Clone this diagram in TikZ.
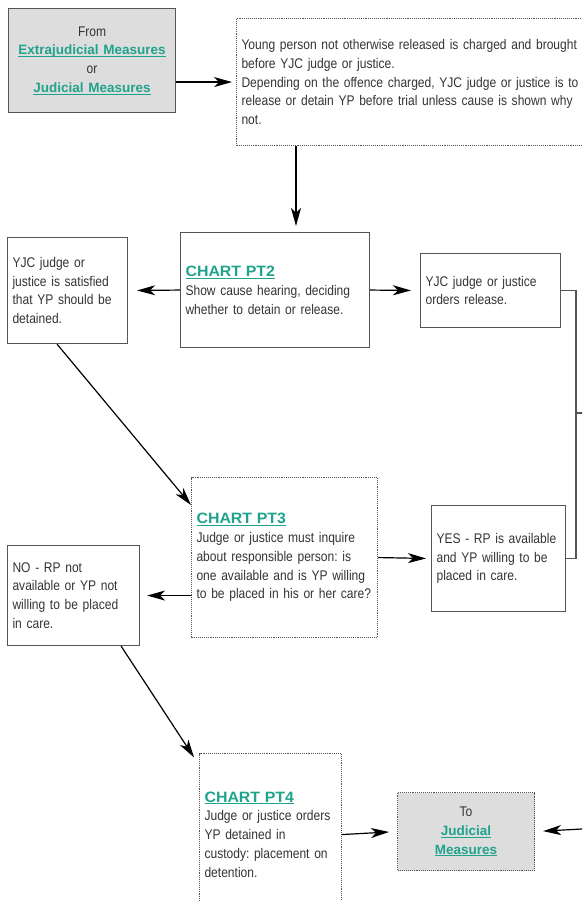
\documentclass[tikz,border=0pt]{standalone}
\usepackage{fontspec}
\setmainfont{Liberation Sans}[FakeStretch=0.86]
\newfontfamily\chartfont{Liberation Sans}[FakeStretch=1.06]
\newfontfamily\linkfont{Liberation Sans}
\usepackage{xcolor}
\usepackage{tikz}
\usetikzlibrary{arrows.meta}
\frenchspacing

\definecolor{linkteal}{RGB}{31,163,140}
\definecolor{boxgrey}{RGB}{221,221,221}
\definecolor{edgegrey}{RGB}{85,85,85}

\newcommand{\linktext}[1]{{\linkfont\fontsize{13.5}{19}\selectfont\color{linkteal}\underline{\raisebox{0pt}[\height][0pt]{\textbf{#1}}}}}
\newcommand{\charthead}[1]{{\chartfont\fontsize{15}{19}\selectfont\color{linkteal}\underline{\raisebox{0pt}[\height][0pt]{\textbf{#1}}}}}

\tikzset{
  box/.style={draw=edgegrey, line width=1.1pt, anchor=north west, inner xsep=5pt, inner ysep=0pt,
    align=left, text=black!80, font=\fontsize{14}{18.8}\selectfont},
  dotbox/.style={box, densely dotted},
  greybox/.style={fill=boxgrey},
  arrow/.style={-{Stealth[length=18pt,width=10pt,inset=5pt]}, line width=1.2pt, black},
  line/.style={line width=1.1pt, edgegrey}
}

\begin{document}
\begin{tikzpicture}[x=1pt,y=-1pt]
\useasboundingbox (0,0) rectangle (582,901);
\clip (0,0) rectangle (582,901);

% boxes
\node[box, greybox, align=center, text width=157pt, minimum height=104pt] (from) at (8,8)
  {From\\ \linktext{Extrajudicial Measures}\\ or\\ \linktext{Judicial Measures}};
\node[dotbox, text width=380pt, minimum height=127pt] (charged) at (236,18)
  {Young person not otherwise released is charged and brought\\ before YJC judge or justice.\\
   Depending on the offence charged, YJC judge or justice is to\\ release or detain YP before trial unless cause is shown why\\ not.};
\node[box, text width=179pt, minimum height=115pt] (pt2) at (180,232)
  {\charthead{CHART PT2}\\ Show cause hearing, deciding\\ whether to detain or release.};
\node[box, text width=110pt, minimum height=106pt] (satisfied) at (7,237)
  {YJC judge or\\ justice is satisfied\\ that YP should be\\ detained.};
\node[box, text width=130pt, minimum height=74pt] (release) at (420,253)
  {YJC judge or justice\\ orders release.};
\node[dotbox, text width=176pt, minimum height=160pt] (pt3) at (191,477)
  {\charthead{CHART PT3}\\ Judge or justice must inquire\\ about responsible person: is\\ one available and is YP willing\\ to be placed in his or her care?};
\node[box, text width=124pt, minimum height=106pt] (yes) at (431,505)
  {YES - RP is available\\ and YP willing to be\\ placed in care.};
\node[box, text width=122pt, minimum height=100pt] (no) at (7,545)
  {NO - RP not\\ available or YP not\\ willing to be placed\\ in care.};
\node[dotbox, text width=132pt, minimum height=162pt] (pt4) at (199,753)
  {\charthead{CHART PT4}\\ Judge or justice orders\\ YP detained in\\ custody: placement on\\ detention.};
\node[dotbox, greybox, align=center, text width=127pt, minimum height=78pt] (tojm) at (397,792)
  {To\\ \linktext{Judicial}\\ \linktext{Measures}};

% connectors
\coordinate (rail) at (576,413);
\coordinate (railout) at (600,413);
\coordinate (offright) at (600,828);

\draw[arrow, shorten >=4pt] (from.east |- charged.west) -- (charged.west);
\draw[arrow, shorten >=6pt] ([xshift=60pt]charged.south west) -- ([xshift=116pt]pt2.north west);
\draw[arrow, shorten >=9pt] (pt2.west) -- (satisfied.east);
\draw[arrow, shorten >=9pt] (pt2.east) -- (release.west);
\draw[arrow] ([xshift=50pt]satisfied.south west) -- ([yshift=-28pt]pt3.north west);
\draw[arrow, shorten >=5pt] (pt3.east) -- (yes.west);
\draw[arrow, shorten >=7pt] (pt3.west |- no.east) -- (no.east);
\draw[arrow, shorten >=9pt] ([xshift=-19pt]no.south east) -- ([yshift=-12pt]pt4.north west);
\draw[arrow, shorten >=8pt] (pt4.east) -- (tojm.west);
\draw[arrow, shorten >=8pt] (offright) -- (tojm.east);

\draw[line] (release.east) -| (rail) |- (yes.east);
\draw[line] (rail) -- (railout);
\end{tikzpicture}
\end{document}
